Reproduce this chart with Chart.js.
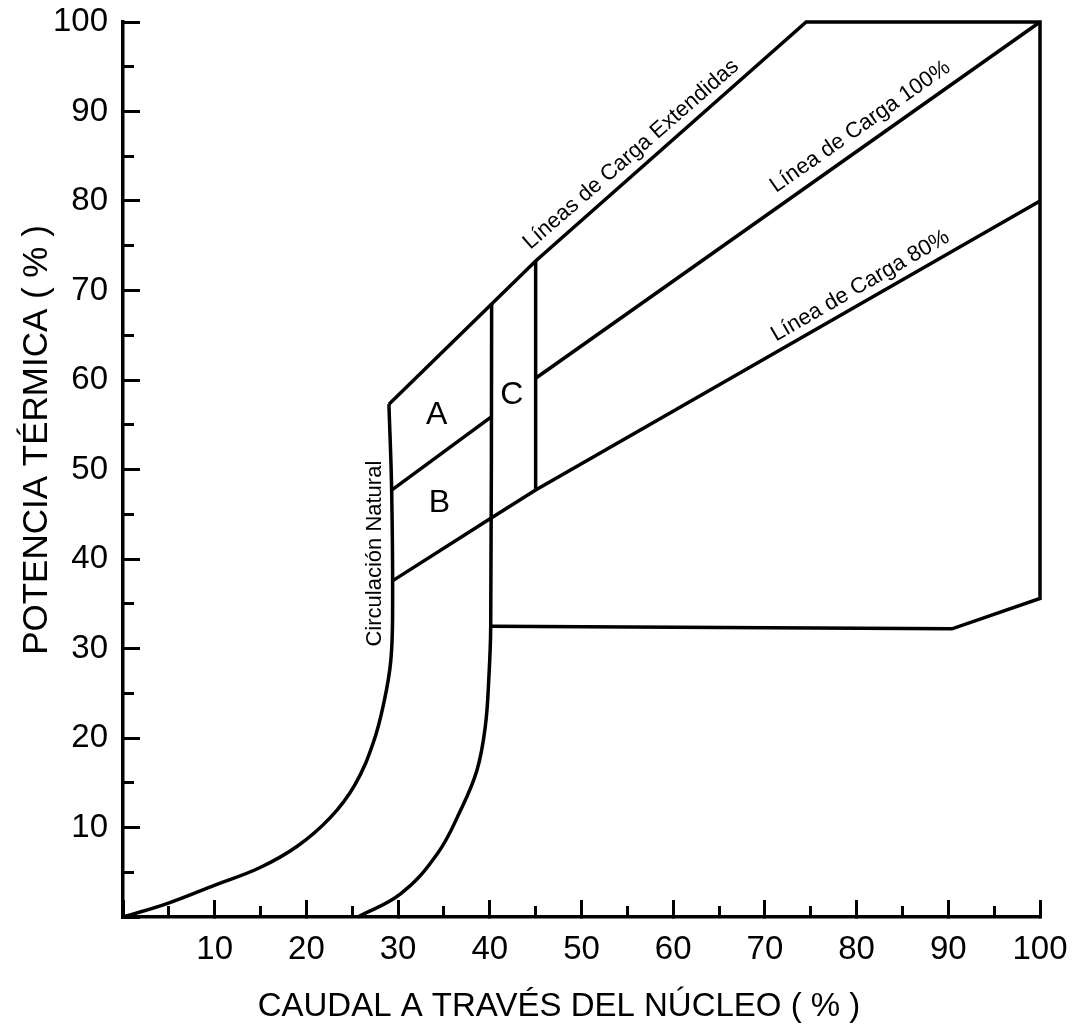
<!DOCTYPE html>
<html>
<head>
<meta charset="utf-8">
<script src="https://cdn.jsdelivr.net/npm/chart.js@4.4.1/dist/chart.umd.min.js"></script>
<style>
  body { margin: 0; background: #fff; }
</style>
</head>
<body>
<canvas id="map" width="1072" height="1026"></canvas>
<script>
// core flow (x, %) vs thermal power (y, %)

// natural circulation curve
const natX = [0, 4.8, 10.1, 14.9, 19.0, 22.6, 25.3, 27.3, 28.5, 29.2, 29.4, 29.3, 29.0];
const natY = [0, 1.5, 3.6, 5.5, 7.9, 11.1, 14.8, 19.5, 24.2, 28.6, 34.0, 47.5, 57.3];

// minimum flow curve (ends at 40 %)
const minFlowX = [25.6, 30.3, 34.3, 36.8, 38.6, 39.5, 39.9, 40.1, 40.2];
const minFlowY = [0, 2.6, 7.1, 11.9, 16.4, 21.2, 26.8, 32.5, 68.5];

// outer boundary: extended load lines, 100 % power, right side, min power
const boundX = [29.0, 40.2, 45.0, 74.5, 100, 100, 90.4, 40.2];
const boundY = [57.3, 68.5, 73.3, 100, 100, 35.6, 32.2, 32.5];

// right side of region C
const regionCX = [45, 45];
const regionCY = [73.3, 47.7];

// line between A and B
const dividerX = [29.3, 40.2];
const dividerY = [47.7, 55.9];

// 100 % load line
const load100X = [45, 100];
const load100Y = [60.2, 100];

// 80 % load line
const load80X = [29.3, 40.2, 45, 100];
const load80Y = [37.5, 44.6, 47.7, 80];

const xTickLabels = ["10", "20", "30", "40", "50", "60", "70", "80", "90", "100"];
const yTickLabels = ["10", "20", "30", "40", "50", "60", "70", "80", "90", "100"];

const xTitle = "CAUDAL A TRAVÉS DEL NÚCLEO ( % )";
const yTitle = "POTENCIA TÉRMICA ( % )";

// text written on the map, in data coordinates
const notes = [
  { text: "A", x: 34.2, y: 56.1, angle: 0, size: 32 },
  { text: "B", x: 34.5, y: 46.2, angle: 0, size: 32 },
  { text: "C", x: 42.4, y: 58.3, angle: 0, size: 32 },
  { text: "Circulación Natural", x: 27.5, y: 40.6, angle: -90, size: 22 },
  { text: "Líneas de Carga Extendidas", x: 55.4, y: 85.2, angle: -41, size: 22 },
  { text: "Línea de Carga 100%", x: 80.4, y: 88.3, angle: -35, size: 22 },
  { text: "Línea de Carga 80%", x: 80.4, y: 70.5, angle: -30, size: 22 },
];

const FONT = '"Liberation Sans", Arial, sans-serif';
const INK = "#000";

function pts(xs, ys) {
  return xs.map((x, i) => ({ x: x, y: ys[i] }));
}

function series(xs, ys, tension) {
  return {
    data: pts(xs, ys),
    showLine: true,
    borderColor: INK,
    borderWidth: 3.5,
    pointRadius: 0,
    tension: tension || 0,
    clip: false,
  };
}

// labels and axis titles drawn on top of the plot
const notesPlugin = {
  id: "notes",
  afterDraw(chart) {
    const { ctx, scales } = chart;
    const sx = scales.x, sy = scales.y;
    ctx.save();
    ctx.fillStyle = INK;
    ctx.textAlign = "center";
    ctx.textBaseline = "middle";
    notes.forEach((n) => {
      ctx.save();
      ctx.translate(sx.getPixelForValue(n.x), sy.getPixelForValue(n.y));
      ctx.rotate((n.angle * Math.PI) / 180);
      ctx.font = n.size + "px " + FONT;
      ctx.fillText(n.text, 0, 0);
      ctx.restore();
    });

    // axis titles
    ctx.font = "33px " + FONT;
    ctx.fillText(xTitle, 559, 1007);
    ctx.save();
    ctx.translate(37, 440);
    ctx.rotate(-Math.PI / 2);
    ctx.font = "35px " + FONT;
    ctx.fillText(yTitle, 0, 0);
    ctx.restore();
    ctx.restore();
  },
};

const tickGrid = (len) => ({
  drawOnChartArea: false,
  drawTicks: true,
  tickLength: len,
  tickWidth: 3,
  tickColor: INK,
});

// keep the plot area fixed: no extra room for label overhang
function fixBox(w, h) {
  return (s) => {
    if (w !== null) s.width = w;
    if (h !== null) s.height = h;
    s.paddingTop = 0;
    s.paddingBottom = 0;
    s.paddingLeft = 0;
    s.paddingRight = 0;
  };
}

new Chart(document.getElementById("map"), {
  type: "scatter",
  data: {
    datasets: [
      series(natX, natY, 0.4),
      series(minFlowX, minFlowY, 0.4),
      series(boundX, boundY),
      series(regionCX, regionCY),
      series(dividerX, dividerY),
      series(load100X, load100Y),
      series(load80X, load80Y),
    ],
  },
  options: {
    responsive: false,
    animation: false,
    devicePixelRatio: 1,
    layout: { padding: { top: 22, right: 32, bottom: 0, left: 0 } },
    plugins: { legend: { display: false }, tooltip: { enabled: false } },
    scales: {
      x: {
        type: "linear",
        position: "bottom",
        min: 0,
        max: 100,
        weight: 1,
        border: { display: true, width: 3.5, color: INK },
        grid: tickGrid(-17),
        ticks: {
          stepSize: 10,
          autoSkip: false,
          maxRotation: 0,
          padding: 30,
          color: INK,
          font: { family: FONT, size: 33 },
          callback: (v) => (v === 0 ? "" : xTickLabels[v / 10 - 1]),
        },
        afterFit: fixBox(null, 109),
      },
      xMinor: {
        type: "linear",
        position: "bottom",
        min: 0,
        max: 100,
        weight: 0,
        border: { display: false },
        grid: tickGrid(-11),
        ticks: { stepSize: 5, autoSkip: false, display: false },
        afterFit: fixBox(null, 0),
      },
      y: {
        type: "linear",
        position: "left",
        min: 0,
        max: 100,
        weight: 1,
        border: { display: true, width: 3.5, color: INK },
        grid: tickGrid(-17),
        ticks: {
          stepSize: 10,
          autoSkip: false,
          padding: 32,
          color: INK,
          font: { family: FONT, size: 33 },
          callback: (v) => (v === 0 ? "" : yTickLabels[v / 10 - 1]),
        },
        afterFit: fixBox(123, null),
      },
      yMinor: {
        type: "linear",
        position: "left",
        min: 0,
        max: 100,
        weight: 0,
        border: { display: false },
        grid: tickGrid(-11),
        ticks: { stepSize: 5, autoSkip: false, display: false },
        afterFit: fixBox(0, null),
      },
    },
  },
  plugins: [notesPlugin],
});
</script>
</body>
</html>
